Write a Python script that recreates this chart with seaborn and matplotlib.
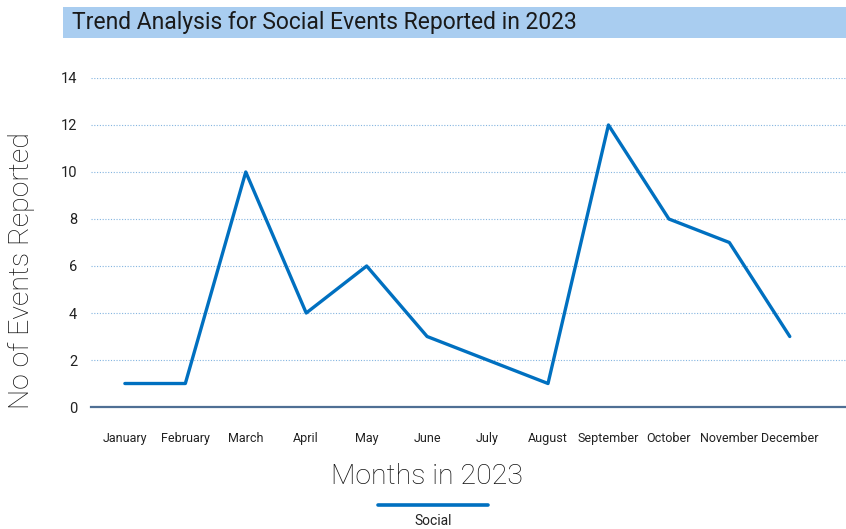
import numpy as np
import pandas as pd
import matplotlib
matplotlib.use("Agg")
import matplotlib.pyplot as plt
from matplotlib.patches import Rectangle
from matplotlib.lines import Line2D
import seaborn as sns

# data
months = ["January", "February", "March", "April", "May", "June",
          "July", "August", "September", "October", "November", "December"]
social_events = [1, 1, 10, 4, 6, 3, 2, 1, 12, 8, 7, 3]
y_ticks = [0, 2, 4, 6, 8, 10, 12, 14]

sns.set_theme(style="white")
plt.rcParams['font.family'] = ['Roboto', 'DejaVu Sans']

df = pd.DataFrame({"Month": months, "Events": social_events})

fig = plt.figure(figsize=(8.46, 5.29), dpi=100)
ax = fig.add_axes([0.1076, 0.2306, 0.8924, 0.622])

line_color = "#0070c0"
sns.lineplot(data=df, x="Month", y="Events", ax=ax, color=line_color,
             linewidth=2.4, sort=False)

ax.set_xlim(-0.56, 11.93)
ax.set_ylim(0, 14)
ax.set_yticks(y_ticks)
ax.set_xticks(range(len(months)))
ax.set_xticklabels(months, fontsize=9, color="#222222")
ax.tick_params(axis="x", length=0, pad=18)
ax.tick_params(axis="y", length=0, pad=10, labelsize=10.5, labelcolor="#222222")

# dotted horizontal gridlines
ax.yaxis.grid(True, linestyle=(0, (1, 1.5)), color="#5b9bd5", linewidth=0.8, alpha=0.75)
ax.xaxis.grid(False)
ax.set_axisbelow(True)
for side in ["top", "right", "left"]:
    ax.spines[side].set_visible(False)
ax.spines["bottom"].set_color("#4f6f94")
ax.spines["bottom"].set_linewidth(1.6)

ax.set_xlabel("")
ax.set_ylabel("")
fig.text(0.026, 0.488, "No of Events Reported", rotation=90, ha="center", va="center",
         fontsize=20.5, color="#111111", fontweight="light")
fig.text(0.505, 0.1, "Months in 2023", ha="center", va="center",
         fontsize=20.5, color="#111111", fontweight="light")

# title band
fig.patches.append(Rectangle((0.0745, 0.928), 0.93, 0.059, transform=fig.transFigure,
                             facecolor="#a9cdf0", edgecolor="none", zorder=0))
fig.text(0.085, 0.957, "Trend Analysis for Social Events Reported in 2023",
         ha="left", va="center", fontsize=16.5, color="#1a1a1a")

# legend: handle on top, label below
handle = Line2D([], [], color=line_color, linewidth=2.6)
fig.legend([handle], [""], loc="center", bbox_to_anchor=(0.512, 0.042),
           frameon=False, handlelength=7.2, handletextpad=0, borderpad=0)
fig.text(0.512, 0.015, "Social", ha="center", va="center", fontsize=10, color="#222222")

fig.savefig("out.png", dpi=100)
